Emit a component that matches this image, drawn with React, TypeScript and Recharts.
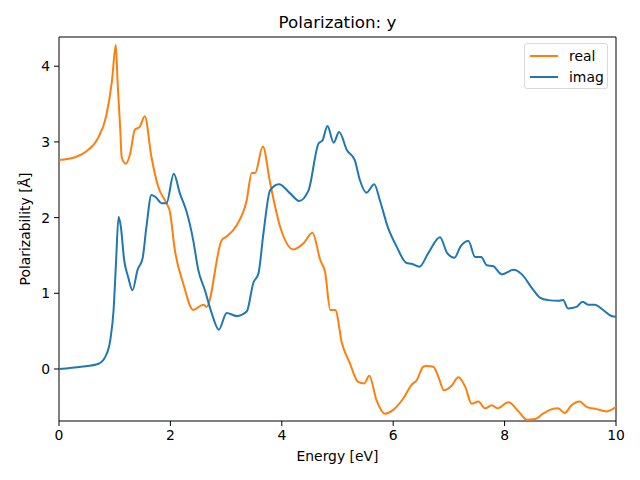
import React from 'react';
import { LineChart, Line, XAxis, YAxis, ReferenceArea } from 'recharts';

// energy grid (eV) and values, per series
const realEnergy = [0, 0.3, 0.5, 0.7, 0.85, 0.95, 1.02, 1.05, 1.1, 1.125, 1.2, 1.28, 1.36, 1.45, 1.54, 1.66, 1.78, 1.93, 1.99, 2.08, 2.23, 2.41, 2.59, 2.65, 2.92, 3.01, 3.19, 3.37, 3.46, 3.52, 3.66, 3.79, 3.97, 4.21, 4.39, 4.55, 4.69, 4.78, 4.87, 4.96, 5.08, 5.22, 5.37, 5.48, 5.57, 5.7, 5.85, 6.0, 6.18, 6.33, 6.42, 6.54, 6.6, 6.72, 6.81, 6.91, 7.05, 7.17, 7.29, 7.41, 7.53, 7.65, 7.77, 7.87, 8.07, 8.25, 8.4, 8.55, 8.69, 8.85, 8.96, 9.08, 9.2, 9.35, 9.47, 9.65, 9.83, 10];
const realValues = [2.76, 2.8, 2.88, 3.05, 3.35, 3.8, 4.28, 3.82, 3.16, 2.8, 2.71, 2.85, 3.16, 3.2, 3.34, 2.8, 2.41, 2.19, 2.08, 1.57, 1.13, 0.78, 0.85, 0.82, 1.7, 1.75, 1.9, 2.23, 2.59, 2.59, 2.94, 2.46, 1.88, 1.58, 1.66, 1.8, 1.44, 1.27, 0.78, 0.78, 0.34, 0.08, -0.17, -0.19, -0.09, -0.41, -0.59, -0.54, -0.39, -0.21, -0.15, 0.03, 0.04, 0.03, -0.1, -0.28, -0.22, -0.11, -0.23, -0.46, -0.43, -0.52, -0.48, -0.52, -0.44, -0.56, -0.67, -0.66, -0.59, -0.53, -0.52, -0.58, -0.48, -0.43, -0.5, -0.53, -0.56, -0.5];

const imagEnergy = [0, 0.4, 0.71, 0.83, 0.92, 0.98, 1.02, 1.07, 1.11, 1.17, 1.24, 1.32, 1.41, 1.5, 1.57, 1.66, 1.75, 1.84, 1.93, 2.06, 2.17, 2.29, 2.41, 2.5, 2.62, 2.74, 2.87, 3.01, 3.19, 3.37, 3.49, 3.58, 3.67, 3.79, 3.95, 4.15, 4.31, 4.48, 4.66, 4.73, 4.82, 4.93, 5.03, 5.17, 5.31, 5.4, 5.52, 5.66, 5.76, 5.91, 6.06, 6.24, 6.33, 6.47, 6.63, 6.84, 6.97, 7.1, 7.21, 7.35, 7.47, 7.58, 7.68, 7.79, 7.95, 8.16, 8.31, 8.49, 8.64, 8.78, 8.96, 9.05, 9.14, 9.29, 9.4, 9.5, 9.62, 9.77, 9.92, 10];
const imagValues = [0, 0.03, 0.07, 0.16, 0.38, 0.78, 1.35, 2.01, 1.88, 1.44, 1.22, 1.04, 1.31, 1.46, 1.88, 2.3, 2.26, 2.19, 2.19, 2.58, 2.32, 2.08, 1.7, 1.31, 1.04, 0.74, 0.52, 0.74, 0.7, 0.76, 1.14, 1.26, 1.79, 2.36, 2.44, 2.32, 2.22, 2.36, 2.98, 3.02, 3.21, 2.99, 3.13, 2.89, 2.76, 2.5, 2.33, 2.44, 2.23, 1.86, 1.62, 1.4, 1.39, 1.35, 1.53, 1.74, 1.53, 1.47, 1.62, 1.69, 1.48, 1.48, 1.37, 1.36, 1.25, 1.31, 1.25, 1.07, 0.94, 0.91, 0.9, 0.91, 0.8, 0.82, 0.89, 0.85, 0.85, 0.78, 0.7, 0.69];

const xTicks = [0, 2, 4, 6, 8, 10];
const yTicks = [0, 1, 2, 3, 4];
const xDomain = [0, 10];
const yDomain = [-0.687, 4.386];

const realData = realEnergy.map((e, i) => ({ energy: e, real: realValues[i] }));
const imagData = imagEnergy.map((e, i) => ({ energy: e, imag: imagValues[i] }));

const FONT = '"DejaVu Sans", sans-serif';
const ORANGE = '#ff7f0e';
const BLUE = '#1f77b4';

const legendItems = [
    { name: 'real', color: ORANGE },
    { name: 'imag', color: BLUE },
];

const LegendBox = () => (
    <div style={{ position: 'absolute', left: 524, top: 43, width: 84, height: 46, boxSizing: 'border-box', background: 'white', border: '1px solid #d9d9d9', borderRadius: 3, padding: '1px 0 0 5px', fontFamily: FONT, fontSize: 13.9, color: '#000' }}>
        {legendItems.map((p) => (
            <div key={p.name} style={{ display: 'flex', alignItems: 'center', height: 21 }}>
                <div style={{ width: 28, height: 2, background: p.color, marginRight: 11 }} />
                <span>{p.name}</span>
            </div>
        ))}
    </div>
);

const App: React.FC = () => {
    return (
        <div style={{ position: 'absolute', left: 0, top: 0, width: 640, height: 480, background: 'white', fontFamily: FONT }}>
            <div style={{ position: 'absolute', left: 59, width: 557, top: 12, textAlign: 'center', fontSize: 16.7, color: '#000' }}>
                Polarization: y
            </div>
            <div style={{ position: 'absolute', left: 59, width: 557, top: 448, textAlign: 'center', fontSize: 13.9, color: '#000' }}>
                Energy [eV]
            </div>
            <div style={{ position: 'absolute', left: 25, top: 229, transform: 'translate(-50%, -50%) rotate(-90deg)', whiteSpace: 'nowrap', fontSize: 13.9, color: '#000' }}>
                Polarizability [Å]
            </div>
            <LineChart width={640} height={480} margin={{ top: 37, right: 24, bottom: 19, left: 10 }}>
                <XAxis
                    dataKey="energy"
                    type="number"
                    domain={xDomain}
                    ticks={xTicks}
                    allowDataOverflow
                    height={40}
                    axisLine={false}
                    tickSize={5}
                    tickMargin={4}
                    tickLine={{ stroke: '#000', strokeWidth: 1 }}
                    tick={{ fill: '#000', fontSize: 13.9, fontFamily: FONT }}
                />
                <YAxis
                    type="number"
                    domain={yDomain}
                    ticks={yTicks}
                    allowDataOverflow
                    width={49}
                    axisLine={false}
                    tickSize={5}
                    tickMargin={4}
                    tickLine={{ stroke: '#000', strokeWidth: 1 }}
                    tick={{ fill: '#000', fontSize: 13.9, fontFamily: FONT }}
                />
                <Line data={realData} dataKey="real" name="real" type="monotone" stroke={ORANGE} strokeWidth={2} dot={false} isAnimationActive={false} />
                <Line data={imagData} dataKey="imag" name="imag" type="monotone" stroke={BLUE} strokeWidth={2} dot={false} isAnimationActive={false} />
                <ReferenceArea x1={xDomain[0]} x2={xDomain[1]} y1={yDomain[0]} y2={yDomain[1]} fill="none" stroke="#000" strokeWidth={1} ifOverflow="visible" />
            </LineChart>
            <LegendBox />
        </div>
    );
};

export default App;
